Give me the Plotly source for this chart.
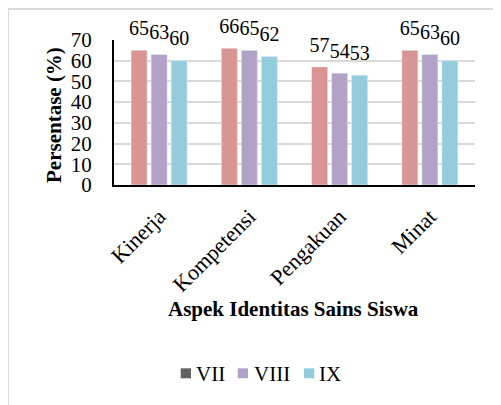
import plotly.graph_objects as go

categories = ["Kinerja", "Kompetensi", "Pengakuan", "Minat"]
series_names = ["VII", "VIII", "IX"]
vii = [65, 66, 57, 65]
viii = [63, 65, 54, 63]
ix = [60, 62, 53, 60]
y_ticks = [0, 10, 20, 30, 40, 50, 60, 70]

bar_colors = ["#D99594", "#B3A2C7", "#93CDDD"]
legend_colors = ["#636363", "#B3A2C7", "#93CDDD"]
FONT = "Liberation Serif, Times New Roman, serif"

fig = go.Figure()
for name, vals, col in zip(series_names, [vii, viii, ix], bar_colors):
    fig.add_trace(go.Bar(
        x=categories, y=vals, name=name, marker_color=col, showlegend=False,
        offsetgroup=name,
        texttemplate="<span style='font-size:20px'>%{y}</span><br>&nbsp;",
        textposition="outside", constraintext="none", cliponaxis=False,
        textfont=dict(family=FONT, size=8, color="black"),
    ))

OFF = 8  # page body margin
L, R, T, B = 114 - OFF, 475 - OFF, 40 - OFF, 185 - OFF
W, H = 501, 405


def px(x):
    return (x - OFF - L) / (R - L)


def py(y):
    return (B - (y - OFF)) / (B - T)


shapes = [
    dict(type="line", xref="paper", yref="paper", x0=px(8), x1=px(501), y0=py(9), y1=py(9),
         line=dict(color="#D9D9D9", width=2)),
    dict(type="line", xref="paper", yref="paper", x0=px(8), x1=px(8), y0=py(9), y1=py(405),
         line=dict(color="#D9D9D9", width=2)),
]
annotations = [
    dict(text="<b>Persentase (%)</b>", xref="paper", yref="paper", x=px(53.5), y=py(115.5),
         textangle=-90, showarrow=False, xanchor="center", yanchor="middle",
         font=dict(family=FONT, size=21, color="black")),
    dict(text="<b>Aspek Identitas Sains Siswa</b>", xref="paper", yref="paper", x=px(293.5), y=py(309),
         showarrow=False, xanchor="center", yanchor="middle",
         font=dict(family=FONT, size=21, color="black")),
]

# legend (drawn manually to match the compact swatch/text spacing)
legend_sq_x = [180.7, 237.7, 304.0]
legend_txt_x = [193.5, 251.5, 316.5]
for name, col, sx, tx in zip(series_names, legend_colors, legend_sq_x, legend_txt_x):
    shapes.append(dict(type="rect", xref="paper", yref="paper",
                       x0=px(sx), x1=px(sx + 10.3), y0=py(378.3), y1=py(368.3),
                       fillcolor=col, line=dict(width=0)))
    annotations.append(dict(text=name, xref="paper", yref="paper", x=px(tx), y=py(373.5),
                            showarrow=False, xanchor="left", yanchor="middle",
                            font=dict(family=FONT, size=21, color="black")))

fig.update_layout(
    width=W, height=H,
    margin=dict(l=L, r=W - R, t=T, b=H - B, autoexpand=False),
    paper_bgcolor="white", plot_bgcolor="white",
    barmode="group", bargap=0.335, bargroupgap=0.2,
    font=dict(family=FONT, size=20, color="black"),
    showlegend=False,
    xaxis=dict(tickangle=-45, showline=True, linecolor="black", linewidth=2,
               ticks="outside", ticklen=8, tickcolor="rgba(0,0,0,0)",
               tickfont=dict(family=FONT, size=22, color="black"), showgrid=False),
    yaxis=dict(range=[0, 70], tickvals=y_ticks, showline=True, linecolor="black", linewidth=2,
               gridcolor="#D9D9D9", gridwidth=1.5, zeroline=False,
               ticks="outside", ticklen=16, tickcolor="rgba(0,0,0,0)",
               tickfont=dict(family=FONT, size=21, color="black")),
    shapes=shapes,
    annotations=annotations,
)
fig.write_html("out.html")
